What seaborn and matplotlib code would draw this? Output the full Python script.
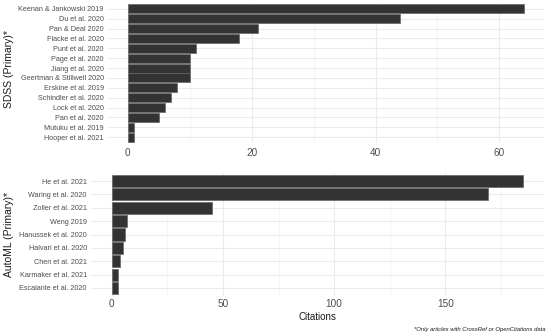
import matplotlib
matplotlib.use("Agg")
import matplotlib.pyplot as plt
import seaborn as sns
import pandas as pd
from matplotlib.ticker import MultipleLocator

# SDSS papers and their citation counts
sdss_papers = ["Keenan & Jankowski 2019", "Du et al. 2020", "Pan & Deal 2020", "Flacke et al. 2020",
               "Punt et al. 2020", "Page et al. 2020", "Jiang et al. 2020", "Geertman & Stillwell 2020",
               "Erskine et al. 2019", "Schindler et al. 2020", "Lock et al. 2020", "Pan et al. 2020",
               "Mutuku et al. 2019", "Hooper et al. 2021"]
sdss_citations = [64, 44, 21, 18, 11, 10, 10, 10, 8, 7, 6, 5, 1, 1]

# AutoML papers and their citation counts
automl_papers = ["He et al. 2021", "Waring et al. 2020", "Zoller et al. 2021", "Weng 2019",
                 "Hanussek et al. 2020", "Halvari et al. 2020", "Chen et al. 2021",
                 "Karmaker et al. 2021", "Escalante et al. 2020"]
automl_citations = [185, 169, 45, 7, 6, 5, 4, 3, 3]

sns.set_style("whitegrid", {"grid.color": "#EBEBEB", "axes.edgecolor": "white"})
plt.rcParams["font.family"] = ["Liberation Sans", "DejaVu Sans"]

fig = plt.figure(figsize=(5.5, 3.36), dpi=100)
ax1 = fig.add_axes([108 / 550, 1 - 143 / 336, (544 - 108) / 550, 140 / 336])
ax2 = fig.add_axes([91 / 550, 40 / 336, (544 - 91) / 550, 123 / 336])


def draw(ax, papers, cites, major, minor):
    df = pd.DataFrame({"paper": papers, "citations": cites})
    sns.barplot(data=df, x="citations", y="paper", orient="h", color="#333333",
                width=0.9, edgecolor="#666666", linewidth=0.5, ax=ax)
    top = max(cites)
    ax.set_xlim(-0.05 * top, 1.05 * top)
    ax.set_ylim(len(papers) - 0.4, -0.6)
    ax.xaxis.set_major_locator(MultipleLocator(major))
    ax.xaxis.set_minor_locator(MultipleLocator(minor))
    ax.grid(which="major", color="#EBEBEB", linewidth=0.8)
    ax.grid(which="minor", axis="x", color="#F2F2F2", linewidth=0.5)
    ax.set_axisbelow(True)
    for s in ax.spines.values():
        s.set_visible(False)
    ax.tick_params(which="both", length=0, labelsize=5.2, labelcolor="#4D4D4D", pad=3)
    ax.tick_params(axis="x", labelsize=7.2, pad=3.5)
    ax.set_ylabel("")
    ax.set_xlabel("")


draw(ax1, sdss_papers, sdss_citations, 20, 10)
draw(ax2, automl_papers, automl_citations, 50, 25)
ax2.tick_params(axis="x", pad=2.5)
ax2.set_xlabel("Citations", fontsize=7.0, color="#1A1A1A", labelpad=2)

fig.text(9 / 550, 1 - 69 / 336, "SDSS (Primary)*", rotation=90, ha="center", va="center",
         fontsize=7.5, color="#1A1A1A")
fig.text(9 / 550, 1 - 234 / 336, "AutoML (Primary)*", rotation=90, ha="center", va="center",
         fontsize=7.5, color="#1A1A1A")

fig.text(546 / 550, 7 / 336, "*Only articles with CrossRef or OpenCitations data",
         ha="right", va="center", fontsize=4.2, style="italic", color="#1A1A1A")

fig.savefig("out.png", dpi=100)
